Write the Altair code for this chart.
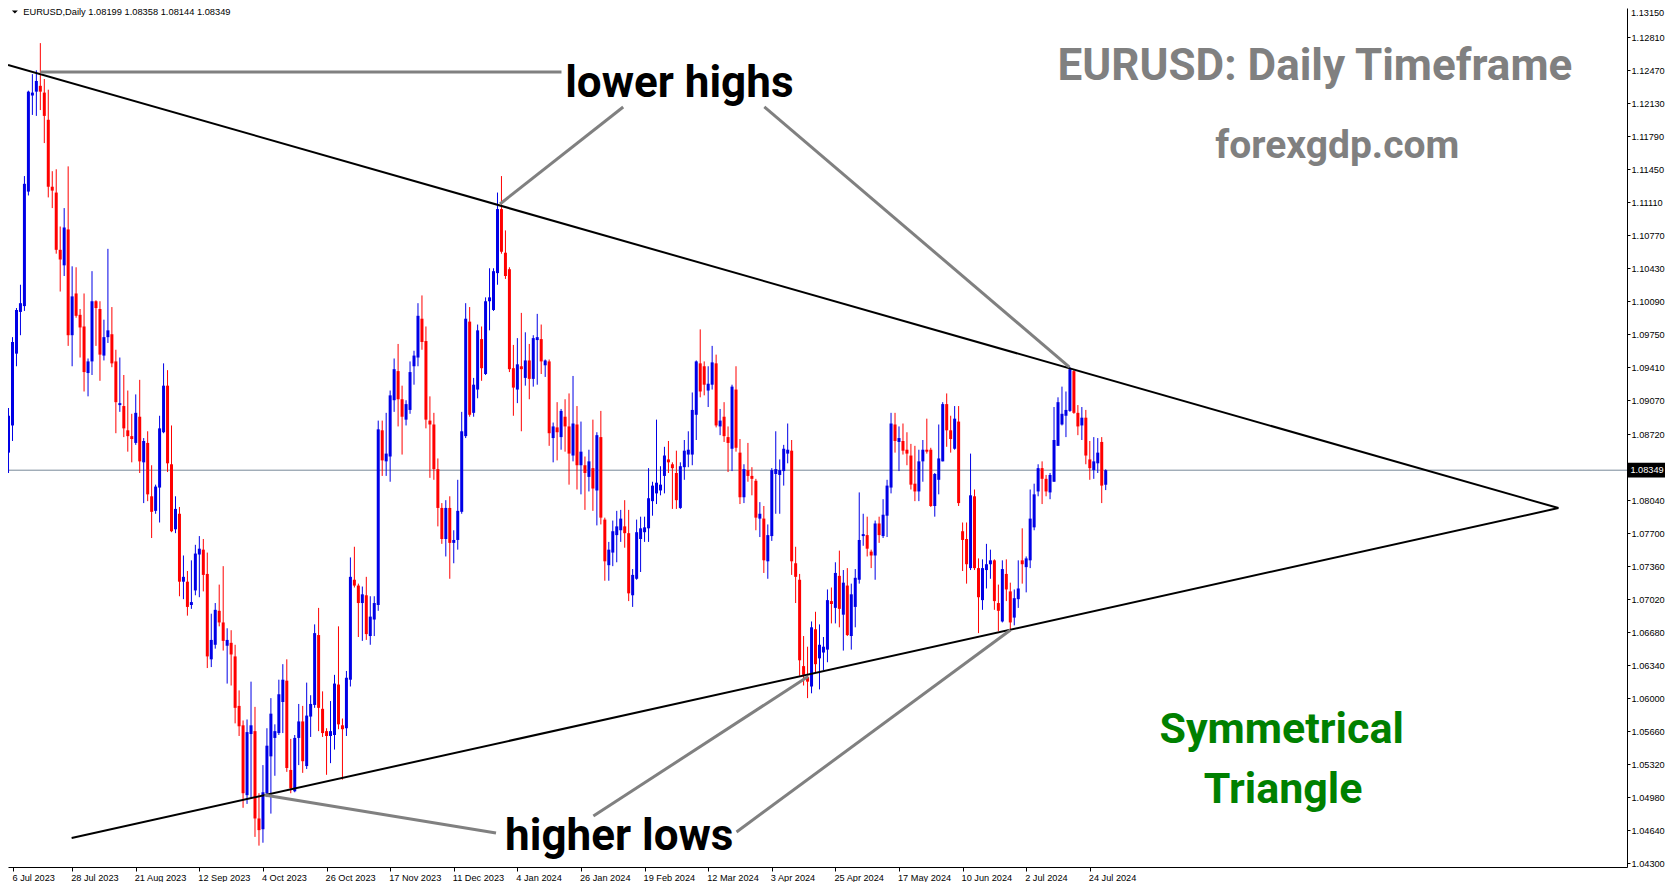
import altair as alt
import pandas as pd

# ---------------- data ----------------
opens = [1.0853, 1.0881, 1.0955, 1.0998, 1.1004, 1.1122, 1.1221, 1.1225, 1.1231, 1.1224,
         1.1196, 1.1127, 1.1121, 1.1062, 1.1046, 1.1083, 1.0974, 1.1017, 1.0995, 1.0983,
         1.0935, 1.0947, 1.1009, 1.1001, 1.0953, 1.0972, 1.0975, 1.0947, 1.0902, 1.0901,
         1.0876, 1.0870, 1.0863, 1.0890, 1.0843, 1.0863, 1.0808, 1.0793, 1.0817, 1.0874,
         1.0922, 1.0841, 1.0774, 1.0790, 1.0720, 1.0720, 1.0696, 1.0711, 1.0748, 1.0753,
         1.0728, 1.0640, 1.0655, 1.0690, 1.0678, 1.0654, 1.0657, 1.0643, 1.0592, 1.0572,
         1.0500, 1.0563, 1.0566, 1.0476, 1.0465, 1.0502, 1.0540, 1.0559, 1.0564, 1.0596,
         1.0618, 1.0526, 1.0504, 1.0559, 1.0576, 1.0530, 1.0581, 1.0593, 1.0665, 1.0589,
         1.0566, 1.0561, 1.0562, 1.0614, 1.0572, 1.0569, 1.0619, 1.0722, 1.0716, 1.0698,
         1.0706, 1.0664, 1.0681, 1.0696, 1.0876, 1.0844, 1.0849, 1.0907, 1.0937, 1.0908,
         1.0887, 1.0897, 1.0942, 1.0951, 1.0991, 1.0968, 1.0886, 1.0882, 1.0836, 1.0796,
         1.0764, 1.0796, 1.0760, 1.0763, 1.0792, 1.0870, 1.0988, 1.0894, 1.0918, 1.0970,
         1.0934, 1.1009, 1.1000, 1.1038, 1.1104, 1.1059, 1.1042, 1.0940, 1.0918, 1.0942,
         1.0930, 1.0948, 1.0929, 1.0969, 1.0970, 1.0943, 1.0947, 1.0868, 1.0879, 1.0869,
         1.0890, 1.0880, 1.0850, 1.0882, 1.0840, 1.0840, 1.0828, 1.0837, 1.0814, 1.0869,
         1.0784, 1.0737, 1.0750, 1.0768, 1.0773, 1.0777, 1.0770, 1.0706, 1.0723, 1.0764,
         1.0771, 1.0775, 1.0803, 1.0811, 1.0814, 1.0829, 1.0846, 1.0841, 1.0832, 1.0796,
         1.0838, 1.0851, 1.0851, 1.0892, 1.0945, 1.0942, 1.0917, 1.0923, 1.0945, 1.0880,
         1.0890, 1.0869, 1.0857, 1.0918, 1.0853, 1.0807, 1.0835, 1.0829, 1.0824, 1.0785,
         1.0785, 1.0741, 1.0767, 1.0831, 1.0830, 1.0834, 1.0852, 1.0855, 1.0739, 1.0722,
         1.0633, 1.0622, 1.0612, 1.0671, 1.0641, 1.0647, 1.0650, 1.0700, 1.0693, 1.0726,
         1.0686, 1.0716, 1.0664, 1.0694, 1.0722, 1.0767, 1.0768, 1.0751, 1.0747, 1.0780,
         1.0767, 1.0788, 1.0817, 1.0882, 1.0864, 1.0865, 1.0856, 1.0850, 1.0821, 1.0813,
         1.0844, 1.0856, 1.0856, 1.0798, 1.0825, 1.0844, 1.0903, 1.0876, 1.0857, 1.0885,
         1.0772, 1.0764, 1.0734, 1.0808, 1.0734, 1.0701, 1.0732, 1.0738, 1.0742, 1.0698,
         1.0679, 1.0728, 1.0710, 1.0683, 1.0702, 1.0742, 1.0735, 1.0742, 1.0776, 1.0813,
         1.0837, 1.0826, 1.0812, 1.0823, 1.0860, 1.0882, 1.0891, 1.0896, 1.0937, 1.0894,
         1.0881, 1.0889, 1.0846, 1.0835, 1.0842, 1.0864, 1.08199]
highs = [1.0899, 1.0972, 1.1002, 1.1026, 1.1138, 1.1226, 1.1243, 1.1247, 1.1275, 1.1238,
         1.1227, 1.1143, 1.1145, 1.1086, 1.1105, 1.1148, 1.1045, 1.1044, 1.1001, 1.1017,
         1.0950, 1.1040, 1.1010, 1.1009, 1.0990, 1.1063, 1.1003, 1.0959, 1.0951, 1.0933,
         1.0917, 1.0893, 1.0913, 1.0928, 1.0868, 1.0875, 1.0840, 1.0820, 1.0891, 1.0945,
         1.0938, 1.0881, 1.0808, 1.0797, 1.0747, 1.0731, 1.0742, 1.0758, 1.0767, 1.0764,
         1.0750, 1.0687, 1.0698, 1.0717, 1.0736, 1.0672, 1.0670, 1.0655, 1.0608, 1.0577,
         1.0578, 1.0617, 1.0591, 1.0502, 1.0531, 1.0569, 1.0600, 1.0573, 1.0619, 1.0635,
         1.0640, 1.0558, 1.0562, 1.0594, 1.0592, 1.0616, 1.0603, 1.0676, 1.0693, 1.0607,
         1.0569, 1.0597, 1.0624, 1.0674, 1.0579, 1.0628, 1.0745, 1.0756, 1.0718, 1.0715,
         1.0725, 1.0705, 1.0705, 1.0886, 1.0886, 1.0894, 1.0917, 1.0950, 1.0965, 1.0922,
         1.0907, 1.0947, 1.0958, 1.1007, 1.1015, 1.0983, 1.0911, 1.0894, 1.0847, 1.0801,
         1.0804, 1.0808, 1.0773, 1.0825, 1.0895, 1.1007, 1.1003, 1.0930, 1.0985, 1.0983,
         1.1013, 1.1043, 1.1043, 1.1121, 1.1138, 1.1082, 1.1044, 1.0964, 1.0971, 1.0997,
         1.0977, 1.0965, 1.0974, 1.0996, 1.0985, 1.0949, 1.0949, 1.0884, 1.0905, 1.0898,
         1.0908, 1.0914, 1.0932, 1.0901, 1.0885, 1.0849, 1.0856, 1.0887, 1.0874, 1.0896,
         1.0786, 1.0761, 1.0783, 1.0793, 1.0794, 1.0804, 1.0794, 1.0733, 1.0784, 1.0787,
         1.0787, 1.0837, 1.0823, 1.0887, 1.0839, 1.0859, 1.0865, 1.0843, 1.0855, 1.0843,
         1.0866, 1.0875, 1.0915, 1.0948, 1.0980, 1.0947, 1.0942, 1.0963, 1.0954, 1.0898,
         1.0905, 1.0880, 1.0923, 1.0942, 1.0867, 1.0841, 1.0863, 1.0838, 1.0826, 1.0802,
         1.0798, 1.0779, 1.0837, 1.0875, 1.0846, 1.0861, 1.0883, 1.0866, 1.0756, 1.0728,
         1.0664, 1.0653, 1.0679, 1.0689, 1.0676, 1.0663, 1.0712, 1.0714, 1.0740, 1.0752,
         1.0732, 1.0734, 1.0718, 1.0733, 1.0812, 1.0790, 1.0787, 1.0753, 1.0783, 1.0787,
         1.0805, 1.0825, 1.0894, 1.0894, 1.0880, 1.0883, 1.0874, 1.0862, 1.0860, 1.0856,
         1.0866, 1.0888, 1.0858, 1.0832, 1.0882, 1.0905, 1.0914, 1.0891, 1.0901, 1.0901,
         1.0781, 1.0781, 1.0852, 1.0815, 1.0744, 1.0743, 1.0759, 1.0753, 1.0743, 1.0717,
         1.0742, 1.0743, 1.0719, 1.0712, 1.0742, 1.0775, 1.0746, 1.0815, 1.0821, 1.0841,
         1.0844, 1.0830, 1.0832, 1.0900, 1.0910, 1.0921, 1.0916, 1.0941, 1.0938, 1.0902,
         1.0900, 1.0897, 1.0865, 1.0869, 1.0868, 1.0869, 1.08358]
lows = [1.0832, 1.0865, 1.0942, 1.0974, 1.0999, 1.1118, 1.1201, 1.1200, 1.1206, 1.1172,
        1.1116, 1.1105, 1.1058, 1.1019, 1.1035, 1.0963, 1.0942, 1.0992, 1.0951, 1.0916,
        1.0911, 1.0933, 1.0963, 1.0927, 1.0948, 1.0966, 1.0941, 1.0873, 1.0895, 1.0869,
        1.0854, 1.0843, 1.0861, 1.0832, 1.0801, 1.0803, 1.0765, 1.0790, 1.0781, 1.0873,
        1.0833, 1.0771, 1.0770, 1.0705, 1.0702, 1.0685, 1.0692, 1.0706, 1.0704, 1.0710,
        1.0631, 1.0632, 1.0651, 1.0674, 1.0649, 1.0615, 1.0613, 1.0574, 1.0561, 1.0487,
        1.0491, 1.0497, 1.0457, 1.0448, 1.0451, 1.0498, 1.0481, 1.0520, 1.0562, 1.0564,
        1.0524, 1.0502, 1.0503, 1.0531, 1.0523, 1.0527, 1.0560, 1.0590, 1.0566, 1.0560,
        1.0521, 1.0533, 1.0547, 1.0568, 1.0516, 1.0561, 1.0612, 1.0714, 1.0663, 1.0659,
        1.0660, 1.0655, 1.0664, 1.0690, 1.0829, 1.0829, 1.0823, 1.0895, 1.0880, 1.0851,
        1.0881, 1.0893, 1.0923, 1.0942, 1.0959, 1.0878, 1.0827, 1.0825, 1.0777, 1.0759,
        1.0746, 1.0723, 1.0739, 1.0753, 1.0790, 1.0868, 1.0890, 1.0890, 1.0909, 1.0927,
        1.0933, 1.0979, 1.0999, 1.1026, 1.1058, 1.1032, 1.0936, 1.0891, 1.0904, 1.0875,
        1.0922, 1.0908, 1.0921, 1.0923, 1.0934, 1.0931, 1.0860, 1.0843, 1.0845, 1.0856,
        1.0854, 1.0820, 1.0844, 1.0815, 1.0810, 1.0794, 1.0813, 1.0793, 1.0778, 1.0779,
        1.0721, 1.0721, 1.0736, 1.0740, 1.0761, 1.0755, 1.0700, 1.0694, 1.0722, 1.0730,
        1.0761, 1.0761, 1.0788, 1.0800, 1.0809, 1.0811, 1.0832, 1.0795, 1.0795, 1.0795,
        1.0825, 1.0838, 1.0840, 1.0866, 1.0910, 1.0912, 1.0900, 1.0918, 1.0879, 1.0871,
        1.0864, 1.0833, 1.0834, 1.0854, 1.0800, 1.0801, 1.0823, 1.0809, 1.0773, 1.0766,
        1.0729, 1.0723, 1.0762, 1.0790, 1.0790, 1.0819, 1.0842, 1.0727, 1.0698, 1.0623,
        1.0613, 1.0600, 1.0605, 1.0626, 1.0609, 1.0629, 1.0637, 1.0677, 1.0677, 1.0673,
        1.0649, 1.0664, 1.0650, 1.0673, 1.0718, 1.0757, 1.0746, 1.0734, 1.0722, 1.0760,
        1.0765, 1.0766, 1.0811, 1.0853, 1.0834, 1.0851, 1.0840, 1.0815, 1.0803, 1.0803,
        1.0823, 1.0852, 1.0797, 1.0787, 1.0810, 1.0844, 1.0859, 1.0853, 1.0856, 1.0798,
        1.0731, 1.0718, 1.0732, 1.0732, 1.0667, 1.0691, 1.0713, 1.0723, 1.0691, 1.0669,
        1.0678, 1.0700, 1.0669, 1.0675, 1.0693, 1.0718, 1.0709, 1.0734, 1.0773, 1.0808,
        1.0800, 1.0808, 1.0805, 1.0823, 1.0860, 1.0881, 1.0869, 1.0895, 1.0893, 1.0871,
        1.0866, 1.0841, 1.0825, 1.0826, 1.0832, 1.0801, 1.08144]
closes = [1.0891, 1.0967, 1.1000, 1.1007, 1.1130, 1.1225, 1.1224, 1.1236, 1.1225, 1.1200,
          1.1127, 1.1123, 1.1062, 1.1052, 1.1085, 1.0974, 1.1014, 1.0994, 1.0982, 1.0936,
          1.0947, 1.1009, 1.1002, 1.0954, 1.0972, 1.0979, 1.0945, 1.0905, 1.0904, 1.0878,
          1.0870, 1.0867, 1.0894, 1.0844, 1.0865, 1.0810, 1.0792, 1.0818, 1.0878, 1.0922,
          1.0842, 1.0772, 1.0795, 1.0720, 1.0725, 1.0694, 1.0699, 1.0749, 1.0754, 1.0727,
          1.0643, 1.0660, 1.0691, 1.0678, 1.0659, 1.0660, 1.0645, 1.0590, 1.0571, 1.0502,
          1.0565, 1.0572, 1.0476, 1.0464, 1.0503, 1.0551, 1.0584, 1.0566, 1.0604, 1.0619,
          1.0528, 1.0507, 1.0559, 1.0576, 1.0535, 1.0582, 1.0594, 1.0667, 1.0590, 1.0564,
          1.0561, 1.0566, 1.0615, 1.0573, 1.0568, 1.0621, 1.0725, 1.0716, 1.0698, 1.0707,
          1.0666, 1.0684, 1.0698, 1.0877, 1.0845, 1.0852, 1.0912, 1.0939, 1.0908, 1.0890,
          1.0903, 1.0936, 1.0953, 1.0994, 1.0967, 1.0887, 1.0882, 1.0836, 1.0796, 1.0764,
          1.0796, 1.0760, 1.0763, 1.0793, 1.0875, 1.0991, 1.0892, 1.0923, 1.0979, 1.0940,
          1.1009, 1.1013, 1.1040, 1.1104, 1.1060, 1.1035, 1.0939, 1.0920, 1.0944, 1.0939,
          1.0948, 1.0929, 1.0971, 1.0972, 1.0947, 1.0948, 1.0873, 1.0880, 1.0874, 1.0896,
          1.0880, 1.0852, 1.0883, 1.0840, 1.0854, 1.0832, 1.0844, 1.0816, 1.0871, 1.0786,
          1.0741, 1.0753, 1.0772, 1.0777, 1.0785, 1.0770, 1.0708, 1.0727, 1.0771, 1.0775,
          1.0776, 1.0806, 1.0819, 1.0822, 1.0820, 1.0850, 1.0843, 1.0837, 1.0804, 1.0839,
          1.0855, 1.0856, 1.0897, 1.0947, 1.0916, 1.0923, 1.0924, 1.0946, 1.0881, 1.0886,
          1.0870, 1.0863, 1.0921, 1.0858, 1.0807, 1.0836, 1.0829, 1.0826, 1.0786, 1.0790,
          1.0742, 1.0768, 1.0835, 1.0836, 1.0835, 1.0857, 1.0856, 1.0741, 1.0725, 1.0639,
          1.0624, 1.0617, 1.0673, 1.0635, 1.0655, 1.0653, 1.0701, 1.0697, 1.0729, 1.0692,
          1.0719, 1.0665, 1.0707, 1.0724, 1.0763, 1.0769, 1.0754, 1.0747, 1.0780, 1.0768,
          1.0789, 1.0819, 1.0883, 1.0865, 1.0868, 1.0855, 1.0852, 1.0820, 1.0813, 1.0844,
          1.0856, 1.0854, 1.0798, 1.0831, 1.0847, 1.0903, 1.0876, 1.0867, 1.0888, 1.0801,
          1.0763, 1.0738, 1.0809, 1.0734, 1.0704, 1.0734, 1.0738, 1.0742, 1.0700, 1.0690,
          1.0733, 1.0712, 1.0678, 1.0703, 1.0713, 1.0738, 1.0744, 1.0785, 1.0810, 1.0837,
          1.0826, 1.0813, 1.0830, 1.0866, 1.0905, 1.0893, 1.0897, 1.0939, 1.0894, 1.0880,
          1.0889, 1.0850, 1.0837, 1.0844, 1.0853, 1.0819, 1.08349]

date_labels = ["6 Jul 2023", "28 Jul 2023", "21 Aug 2023", "12 Sep 2023", "4 Oct 2023",
               "26 Oct 2023", "17 Nov 2023", "11 Dec 2023", "4 Jan 2024", "26 Jan 2024",
               "19 Feb 2024", "12 Mar 2024", "3 Apr 2024", "25 Apr 2024", "17 May 2024",
               "10 Jun 2024", "2 Jul 2024", "24 Jul 2024"]
label_step = 16

price_ticks = [1.12810, 1.12470, 1.12130, 1.11790, 1.11450, 1.11110, 1.10770,
               1.10430, 1.10090, 1.09750, 1.09410, 1.09070, 1.08720, 1.08040, 1.07700,
               1.07360, 1.07020, 1.06680, 1.06340, 1.06000, 1.05660, 1.05320, 1.04980,
               1.04640, 1.04300]
top_price_label = 1.13150
current_price = 1.08349
header_text = "EURUSD,Daily  1.08199 1.08358 1.08144 1.08349"

# trend lines (bar index, price)
trend_id = ["upper", "upper", "lower", "lower"]
trend_i = [-0.125, 389.875, 15.875, 389.875]
trend_p = [1.12525, 1.07959, 1.04559, 1.07959]

# gray pointer lines
ptr_id = ["h", "h", "b", "b", "c", "c", "l1", "l1", "l2", "l2", "l3", "l3"]
ptr_i = [8.0, 139.1, 123.625, 154.625, 190.125, 266.875, 64.375, 122.625, 201.125, 147.125, 252.05, 183.125]
ptr_p = [1.12452, 1.12452, 1.11092, 1.12092, 1.12092, 1.09412, 1.05002, 1.04610, 1.06223, 1.04785, 1.06702, 1.04621]

# text annotations
ann_text = ["lower highs", "higher lows", "EURUSD: Daily Timeframe", "forexgdp.com", "Symmetrical", "Triangle"]
ann_i = [168.75, 153.63, 328.63, 334.25, 320.25, 320.63]
ann_p = [1.12195, 1.04435, 1.12370, 1.11566, 1.05533, 1.04919]
ann_size = [44, 44, 44, 39, 43, 43]
ann_color = ["#000000", "#000000", "#808080", "#808080", "#008000", "#008000"]

# ---------------- layout ----------------
W, H = 1619, 859
PX_PER_PRICE = 9704.0
Y_TOP = 1.131119
Y_BOT = Y_TOP - H / PX_PER_PRICE
X_LO = 1.125
X_HI = X_LO + W / 4.0

n = len(closes)
df = pd.DataFrame({"i": list(range(n)), "o": opens, "h": highs, "l": lows, "c": closes})
df["dir"] = ["up" if c >= o else "down" for o, c in zip(df.o, df.c)]
df["bot"] = df[["o", "c"]].min(axis=1)
df["top"] = [max(t, b + 1.1 / PX_PER_PRICE) for t, b in zip(df[["o", "c"]].max(axis=1), df["bot"])]
df["hh"] = df[["h", "o", "c"]].max(axis=1)
df["ll"] = df[["l", "o", "c"]].min(axis=1)

trend_df = pd.DataFrame({"id": trend_id, "i": trend_i, "p": trend_p})
ptr_df = pd.DataFrame({"id": ptr_id, "i": ptr_i, "p": ptr_p})
ann_df = pd.DataFrame({"t": ann_text, "i": ann_i, "p": ann_p, "s": ann_size, "col": ann_color})

labels_js = "[" + ",".join("'" + s + "'" for s in date_labels) + "]"
xs = alt.Scale(domain=[X_LO, X_HI], nice=False, zero=False)
ys = alt.Scale(domain=[Y_BOT, Y_TOP], nice=False, zero=False)
x_tick_values = [max(k * label_step, X_LO + 0.125) for k in range(len(date_labels))]
xaxis = alt.Axis(values=x_tick_values,
                 labelExpr=labels_js + "[round(datum.value/" + str(label_step) + ")]",
                 orient="bottom", labelAlign="left", labelOffset=-1.5, labelPadding=2,
                 labelBaseline="top", labelFlush=False, tickSize=4, title=None)
yaxis = alt.Axis(values=price_ticks, format=".5f", orient="right", labelAlign="left",
                 labelPadding=1, labelFlush=False, tickSize=3, title=None)


def X(f):
    return alt.X(f, type="quantitative", scale=xs, axis=xaxis, title=None)


def Y(f):
    return alt.Y(f, type="quantitative", scale=ys, axis=yaxis, title=None)


def YD(v):
    return alt.YDatum(v, type="quantitative", scale=ys, axis=yaxis, title=None)


color = alt.Color("dir:N", scale=alt.Scale(domain=["up", "down"], range=["#0000E6", "#FF0000"]), legend=None)

bid = alt.Chart(df.head(1)).mark_rule(color="#778899", strokeWidth=1).encode(y=YD(current_price))

wicks = alt.Chart(df).mark_rule(strokeWidth=1, clip=True).encode(
    x=X("i"), y=Y("ll"), y2="hh", color=color)
bodies = alt.Chart(df).mark_bar(size=3, clip=True).encode(
    x=X("i"), y=Y("bot"), y2="top", color=color)

trend = alt.Chart(trend_df).mark_line(color="black", strokeWidth=2, clip=True).encode(
    x=X("i"), y=Y("p"), detail="id:N")
ptr = alt.Chart(ptr_df).mark_line(color="#808080", strokeWidth=3, clip=True).encode(
    x=X("i"), y=Y("p"), detail="id:N")

ann = alt.Chart(ann_df).mark_text(font="Roboto", fontWeight="bold", align="center",
                                   baseline="alphabetic").encode(
    x=X("i"), y=Y("p"), text="t:N",
    size=alt.Size("s:Q", scale=None, legend=None),
    color=alt.Color("col:N", scale=None, legend=None))

hdr_df = pd.DataFrame({"i": [3.7], "p": [1.13071], "t": [header_text]})
header = alt.Chart(hdr_df).mark_text(font="Liberation Sans", fontSize=9.3, align="left",
                                      baseline="middle", color="black").encode(
    x=X("i"), y=Y("p"), text="t:N")
tri_df = pd.DataFrame({"i": [1.6], "p": [1.13071]})
tri = alt.Chart(tri_df).mark_point(shape="M-1,-0.5L1,-0.5L0,0.5Z", size=36, filled=True,
                                    color="black", opacity=1, strokeWidth=0).encode(
    x=X("i"), y=Y("p"))

# top price label (its tick sits above the visible page area, so it is set just below)
top_lbl = alt.Chart(df.head(1)).mark_text(font="Liberation Sans", fontSize=9.2, color="black",
                                           align="left", baseline="top", clip=False).encode(
    x=alt.value(W + 4), y=alt.value(0.5), text=alt.value(f"{top_price_label:.5f}"))

box = alt.Chart(df.head(1)).mark_point(shape="M-1,-0.37L1,-0.37L1,0.37L-1,0.37Z", size=1600,
                                        filled=True, color="black", opacity=1, strokeWidth=0,
                                        clip=False).encode(
    x=alt.value(W + 21), y=YD(current_price))
box_txt = alt.Chart(df.head(1)).mark_text(font="Liberation Sans", fontSize=9.2, color="white",
                                           align="center", baseline="middle", clip=False).encode(
    x=alt.value(W + 20), y=YD(current_price), text=alt.value(f"{current_price:.5f}"))

chart = alt.layer(bid, wicks, bodies, trend, ptr, ann, header, tri, top_lbl, box, box_txt).properties(
    width=W, height=H,
    autosize=alt.AutoSizeParams(type="none"),
    padding={"left": 0, "top": 0, "right": 38, "bottom": 15},
    background="white",
).configure_view(strokeWidth=0).configure_axis(
    grid=False, labelFont="Liberation Sans", labelFontSize=9.2, labelColor="black",
    tickColor="black", domainColor="black", tickWidth=1, domainWidth=1,
)

chart.save("out.html", embed_options={"renderer": "svg", "actions": False})
